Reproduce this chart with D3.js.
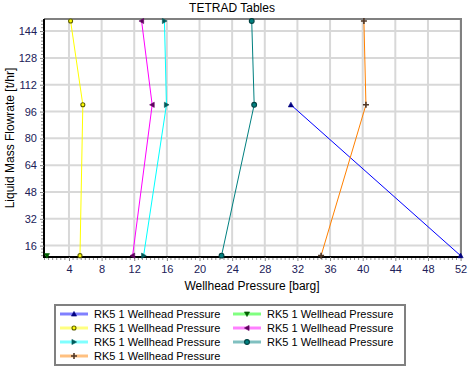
<!DOCTYPE html>
<html><head><meta charset="utf-8">
<script src="https://cdn.jsdelivr.net/npm/d3@7"></script>
<style>body{margin:0;background:#fff;}svg{display:block;font-family:"Liberation Sans",Arial,sans-serif;}</style>
</head><body><svg id="c" width="468" height="370"></svg>
<script>
const title = "TETRAD Tables";
const xTitle = "Wellhead Pressure [barg]";
const yTitle = "Liquid Mass Flowrate [t/hr]";
const seriesNames = ["RK5 1 Wellhead Pressure","RK5 1 Wellhead Pressure","RK5 1 Wellhead Pressure","RK5 1 Wellhead Pressure","RK5 1 Wellhead Pressure","RK5 1 Wellhead Pressure","RK5 1 Wellhead Pressure"];
const flowBlue = [100, 10];
const pressBlue = [31.2, 52.0];
const flowGreen = [10];
const pressGreen = [1.3];
const flowYellow = [150, 100, 10];
const pressYellow = [4.2, 5.7, 5.35];
const flowMagenta = [150, 100, 10];
const pressMagenta = [12.9, 14.2, 11.8];
const flowCyan = [150, 100, 10];
const pressCyan = [15.7, 15.95, 13.15];
const flowTeal = [150, 100, 10];
const pressTeal = [26.4, 26.7, 22.7];
const flowOrange = [150, 100, 10];
const pressOrange = [40.15, 40.4, 34.9];
const xTicks = [4,8,12,16,20,24,28,32,36,40,44,48,52];
const yTicks = [16,32,48,64,80,96,112,128,144];

const series = [
  {x:pressBlue, y:flowBlue, line:"#0000ff", leg:"#8080ff", mk:"#000080", shape:"triUp"},
  {x:pressGreen, y:flowGreen, line:"#00ff00", leg:"#80ff80", mk:"#006000", shape:"triDown"},
  {x:pressYellow, y:flowYellow, line:"#ffff00", leg:"#ffff80", mk:"#606000", fill:"#ffff00", shape:"circle"},
  {x:pressMagenta, y:flowMagenta, line:"#ff00ff", leg:"#ff80ff", mk:"#600060", shape:"triLeft"},
  {x:pressCyan, y:flowCyan, line:"#00ffff", leg:"#80ffff", mk:"#005a5a", shape:"triRight"},
  {x:pressTeal, y:flowTeal, line:"#008080", leg:"#80c0c0", mk:"#004040", fill:"#008080", shape:"circle"},
  {x:pressOrange, y:flowOrange, line:"#ff8000", leg:"#ffc080", mk:"#503828", shape:"plus"}
];

const svg = d3.select("#c");
const L=44, R=461, T=19, B=257;
const x = d3.scaleLinear().domain([0.94, 52.05]).range([L, R]);
const y = d3.scaleLinear().domain([9.2, 151.2]).range([B, T]);

// grid
const g = svg.append("g");
g.selectAll(".vg").data(xTicks).enter().append("line")
  .attr("x1", d=>x(d)).attr("x2", d=>x(d)).attr("y1", T).attr("y2", B)
  .attr("stroke", "#d8d8d8").attr("stroke-width", 2);
g.selectAll(".hg").data(yTicks).enter().append("line")
  .attr("x1", L).attr("x2", R).attr("y1", d=>y(d)).attr("y2", d=>y(d))
  .attr("stroke", "#d8d8d8").attr("stroke-width", 2);

// frame top/right
svg.append("line").attr("x1",L).attr("x2",R+1).attr("y1",T).attr("y2",T).attr("stroke","#808080").attr("stroke-width",2);
svg.append("line").attr("x1",R).attr("x2",R).attr("y1",T).attr("y2",B).attr("stroke","#808080").attr("stroke-width",2);

// axes
const xAxis = d3.axisBottom(x).tickValues(xTicks).tickSize(4).tickPadding(4).tickFormat(d3.format("d"));
const yAxis = d3.axisLeft(y).tickValues(yTicks).tickSize(4).tickPadding(3).tickFormat(d3.format("d"));
const xMinor = d3.range(1, 52.01, 0.5).filter(v=>v%4!==0);
const yMinor = d3.range(10, 151, 2).filter(v=>v%16!==0);
const gx = svg.append("g").attr("transform", `translate(0,${B})`).call(xAxis);
const gy = svg.append("g").attr("transform", `translate(${L},0)`).call(yAxis);
[gx, gy].forEach(a=>{
  a.select(".domain").attr("stroke","#000").attr("stroke-width",2);
  a.selectAll(".tick line").attr("stroke","#808080");
  a.selectAll(".tick text").attr("fill","#202058").attr("font-size",11).attr("font-family","Liberation Sans, Arial, sans-serif");
});
gx.select(".domain").attr("d", `M${L-1},0H${R+1}`);
gy.select(".domain").attr("d", `M0,${T}V${B+1}`);
svg.append("g").selectAll("line").data(xMinor).enter().append("line")
  .attr("x1", d=>x(d)).attr("x2", d=>x(d)).attr("y1", B+1).attr("y2", B+3).attr("stroke","#909090");
svg.append("g").selectAll("line").data(yMinor).enter().append("line")
  .attr("y1", d=>y(d)).attr("y2", d=>y(d)).attr("x1", L-1).attr("x2", L-3).attr("stroke","#909090");

// titles
svg.append("text").attr("x",232).attr("y",12).attr("text-anchor","middle").attr("font-size",12).attr("fill","#000").text(title);
svg.append("text").attr("x",252).attr("y",290).attr("text-anchor","middle").attr("font-size",12).attr("fill","#000").text(xTitle);
svg.append("text").attr("transform",`translate(14,138) rotate(-90)`).attr("text-anchor","middle").attr("font-size",12).attr("fill","#000").text(yTitle);

function marker(sel, s, cx, cy){
  const r=2.6;
  let p;
  if(s.shape==="circle"){
    sel.append("circle").attr("cx",cx).attr("cy",cy).attr("r", s.fill==="#008080"?2.4:2)
      .attr("fill", s.fill).attr("stroke", s.mk).attr("stroke-width",1.1);
    return;
  }
  if(s.shape==="plus"){
    sel.append("path").attr("d",`M${cx-3},${cy}H${cx+3}M${cx},${cy-3}V${cy+3}`).attr("stroke",s.mk).attr("stroke-width",1.6);
    return;
  }
  if(s.shape==="triUp") p=[[cx,cy-r],[cx+r,cy+r*0.8],[cx-r,cy+r*0.8]];
  if(s.shape==="triDown") p=[[cx,cy+r],[cx+r,cy-r*0.8],[cx-r,cy-r*0.8]];
  if(s.shape==="triLeft") p=[[cx-r,cy],[cx+r*0.8,cy-r],[cx+r*0.8,cy+r]];
  if(s.shape==="triRight") p=[[cx+r,cy],[cx-r*0.8,cy-r],[cx-r*0.8,cy+r]];
  sel.append("path").attr("d","M"+p.map(q=>q.join(",")).join("L")+"Z").attr("fill",s.mk).attr("stroke",s.mk).attr("stroke-width",0.6);
}

const line = d3.line().x(d=>x(d[0])).y(d=>y(d[1]));
const clip = svg.append("g");
series.forEach(s=>{
  const pts = s.x.map((v,i)=>[v, s.y[i]]);
  clip.append("path").attr("d", line(pts)).attr("fill","none").attr("stroke", s.line).attr("stroke-width",1);
});
series.forEach(s=>{
  s.x.forEach((v,i)=> marker(clip, s, x(v), y(s.y[i])));
});

// legend
svg.append("rect").attr("x",55).attr("y",305).attr("width",350).attr("height",60)
  .attr("fill","#fff").attr("stroke","#808080").attr("stroke-width",2);
series.forEach((s,i)=>{
  const col = i%2, row = Math.floor(i/2);
  const lx = col===0 ? 60 : 233;
  const ly = 314 + row*14;
  svg.append("line").attr("x1",lx).attr("x2",lx+28).attr("y1",ly).attr("y2",ly).attr("stroke",s.leg).attr("stroke-width",3);
  marker(svg, s, lx+14, ly);
  svg.append("text").attr("x",lx+34).attr("y",ly+4).attr("font-size",11).attr("fill","#000").text(seriesNames[i]);
});
</script></body></html>
